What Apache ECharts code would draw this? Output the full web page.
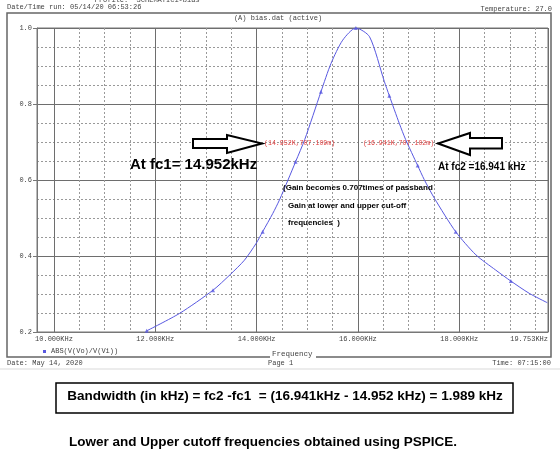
<!DOCTYPE html>
<html>
<head>
<meta charset="utf-8">
<title>bias.dat</title>
<script src="https://cdn.jsdelivr.net/npm/echarts@6/dist/echarts.min.js"></script>
<style>
html, body { margin: 0; padding: 0; background: #fff; }
#biasChart { width: 560px; height: 473px; }
</style>
</head>
<body>
<div id="biasChart"></div>
<script>
// trace ABS(V(Vo)/V(Vi)), frequency in kHz
var freqKHz = [11.83, 12.48, 13.14, 13.47, 13.76, 13.99, 14.12, 14.32, 14.45, 14.62, 14.77, 14.952,
  15.27, 15.47, 15.70, 15.96, 16.23, 16.52, 16.62, 16.82, 16.941, 17.18, 17.31, 17.51, 17.93,
  18.33, 18.72, 19.02, 19.38, 19.74];
var gain = [0.203, 0.249, 0.31, 0.35, 0.389, 0.433, 0.464, 0.512, 0.547, 0.6, 0.648, 0.707,
  0.832, 0.907, 0.968, 1.0, 0.977, 0.86, 0.822, 0.748, 0.707, 0.638, 0.601, 0.552, 0.464,
  0.403, 0.363, 0.334, 0.302, 0.277];
// indexes of the points that show a trace marker
var markerIdx = [0, 2, 6, 10, 12, 15, 18, 21, 24, 27];

// axis range and tick positions
var xMin = 9.665;
var xMax = 19.753;
var xMajor = [10, 12, 14, 16, 18, 19.753];
var xMinor = [10.5, 11, 11.5, 12.5, 13, 13.5, 14.5, 15, 15.5, 16.5, 17, 17.5, 18.5, 19, 19.5];
var yMajorStep = 0.2;
var yMinor = [0.25, 0.3, 0.35, 0.45, 0.5, 0.55, 0.65, 0.7, 0.75, 0.85, 0.9, 0.95];

var traceName = "ABS(V(Vo)/V(Vi))";
var mono = "Liberation Mono";
var sans = "Liberation Sans";

var chart = echarts.init(document.getElementById("biasChart"));

var lineData = [];
for (var i = 0; i < freqKHz.length; i++) {
  lineData.push([freqKHz[i], gain[i]]);
}
var markerData = markerIdx.map(function (k) {
  return [freqKHz[k], gain[k]];
});

var option = {
  backgroundColor: "#fff",
  animation: false,
  color: ["#5858e0"],
  grid: {
    left: 37,
    top: 28,
    width: 511,
    height: 304,
    show: true,
    borderColor: "#777",
    borderWidth: 1
  },
  legend: {
    data: [{ name: traceName, icon: "rect" }],
    left: 38,
    top: 343,
    itemWidth: 3,
    itemHeight: 3,
    itemGap: 4,
    textStyle: { fontFamily: mono, fontSize: 7, color: "#444" }
  },
  xAxis: [
    {
      type: "value",
      min: xMin,
      max: xMax,
      axisLine: { show: true, lineStyle: { color: "#777" } },
      axisTick: { show: false, customValues: xMajor },
      axisLabel: {
        customValues: xMajor,
        margin: 4,
        fontFamily: mono,
        fontSize: 7,
        color: "#444",
        alignMaxLabel: "right",
        formatter: function (v) {
          return v.toFixed(3) + "KHz";
        }
      },
      splitLine: { show: true, lineStyle: { color: "#6e6e6e", width: 1 } }
    },
    {
      type: "value",
      min: xMin,
      max: xMax,
      position: "bottom",
      axisLine: { show: false },
      axisTick: { show: false, customValues: xMinor },
      axisLabel: { show: false, customValues: xMinor },
      splitLine: { show: true, lineStyle: { color: "#999", type: [2, 2], width: 1 } }
    }
  ],
  yAxis: [
    {
      type: "value",
      min: 0.2,
      max: 1.0,
      interval: yMajorStep,
      axisLine: { show: true, lineStyle: { color: "#777" } },
      axisTick: { show: true, length: 4, lineStyle: { color: "#777" } },
      axisLabel: {
        margin: 5,
        fontFamily: mono,
        fontSize: 7,
        color: "#444",
        formatter: function (v) {
          return v.toFixed(1);
        }
      },
      splitLine: { show: true, lineStyle: { color: "#6e6e6e", width: 1 } }
    },
    {
      type: "value",
      min: 0.2,
      max: 1.0,
      position: "left",
      axisLine: { show: false },
      axisTick: { show: false, customValues: yMinor },
      axisLabel: { show: false, customValues: yMinor },
      splitLine: { show: true, lineStyle: { color: "#999", type: [2, 2], width: 1 } }
    }
  ],
  series: [
    {
      name: traceName,
      type: "line",
      xAxisIndex: 0,
      yAxisIndex: 0,
      smooth: 0.25,
      showSymbol: false,
      lineStyle: { width: 1, color: "#5858e0" },
      data: lineData,
      z: 5
    },
    {
      name: "markers",
      type: "scatter",
      xAxisIndex: 0,
      yAxisIndex: 0,
      symbol: "triangle",
      symbolSize: 4,
      itemStyle: { color: "#5858e0" },
      data: markerData,
      z: 6
    }
  ],
  graphic: [
    // page header
    { type: "text", left: 82, top: -3, style: { text: '** Profile: "SCHEMATIC1-bias"', font: "7px " + mono, fill: "#444" } },
    { type: "text", left: 7, top: 4, style: { text: "Date/Time run: 05/14/20 06:53:26", font: "7px " + mono, fill: "#444" } },
    { type: "text", right: 8, top: 6, style: { text: "Temperature: 27.0", font: "7px " + mono, fill: "#444" } },
    // outer frame
    { type: "polyline", shape: { points: [[270, 357], [7, 357], [7, 13], [551, 13], [551, 357], [316, 357]] },
      style: { stroke: "#666", lineWidth: 1.5, fill: null } },
    { type: "text", x: 278, y: 15, style: { text: "(A) bias.dat (active)", font: "7px " + mono, fill: "#444", textAlign: "center" } },
    { type: "text", x: 272, y: 350, style: { text: "Frequency", font: "7.5px " + mono, fill: "#444" } },
    // footer
    { type: "text", left: 7, top: 360, style: { text: "Date: May 14, 2020", font: "7px " + mono, fill: "#444" } },
    { type: "text", left: 268, top: 360, style: { text: "Page 1", font: "7px " + mono, fill: "#444" } },
    { type: "text", right: 9, top: 360, style: { text: "Time: 07:15:00", font: "7px " + mono, fill: "#444" } },
    { type: "rect", shape: { x: 0, y: 368, width: 560, height: 2 }, style: { fill: "#ececec" } },
    // cut-off annotations
    { type: "polygon", shape: { points: [[193, 139], [227, 139], [227, 135], [262, 143.5], [227, 153], [227, 148], [193, 148]] },
      style: { fill: "#fff", stroke: "#000", lineWidth: 2 }, z: 10 },
    { type: "polygon", shape: { points: [[502, 138], [470, 138], [470, 133], [438, 143.5], [470, 155], [470, 148.5], [502, 148.5]] },
      style: { fill: "#fff", stroke: "#000", lineWidth: 2 }, z: 10 },
    { type: "text", x: 264, y: 140, z: 10, style: { text: "(14.952K,707.109m)", font: "6.6px " + mono, fill: "#e04040" } },
    { type: "text", x: 363, y: 140, z: 10, style: { text: "(16.941K,707.102m)", font: "6.6px " + mono, fill: "#e04040" } },
    { type: "text", x: 130, y: 157, z: 10, style: { text: "At fc1= 14.952kHz", font: "bold 15px " + sans, fill: "#000" } },
    { type: "text", x: 438, y: 162, z: 10, style: { text: "At fc2 =16.941 kHz", font: "bold 10px " + sans, fill: "#000" } },
    { type: "text", x: 283, y: 184, z: 10, style: { text: "(Gain becomes 0.707times of passband", font: "bold 8px " + sans, fill: "#000" } },
    { type: "text", x: 288, y: 202, z: 10, style: { text: "Gain at lower and upper cut-off", font: "bold 8px " + sans, fill: "#000" } },
    { type: "text", x: 288, y: 219, z: 10, style: { text: "frequencies  )", font: "bold 8px " + sans, fill: "#000" } },
    // bandwidth box and caption
    { type: "rect", shape: { x: 56, y: 383, width: 457, height: 30 }, style: { fill: "#fff", stroke: "#000", lineWidth: 1.5 } },
    { type: "text", x: 285, y: 396, style: { text: "Bandwidth (in kHz) = fc2 -fc1  = (16.941kHz - 14.952 kHz) = 1.989 kHz",
      font: "bold 13.5px " + sans, fill: "#000", textAlign: "center", textVerticalAlign: "middle" } },
    { type: "text", x: 263, y: 442, style: { text: "Lower and Upper cutoff frequencies obtained using PSPICE.",
      font: "bold 13.5px " + sans, fill: "#000", textAlign: "center", textVerticalAlign: "middle" } }
  ]
};

chart.setOption(option);
</script>
</body>
</html>
